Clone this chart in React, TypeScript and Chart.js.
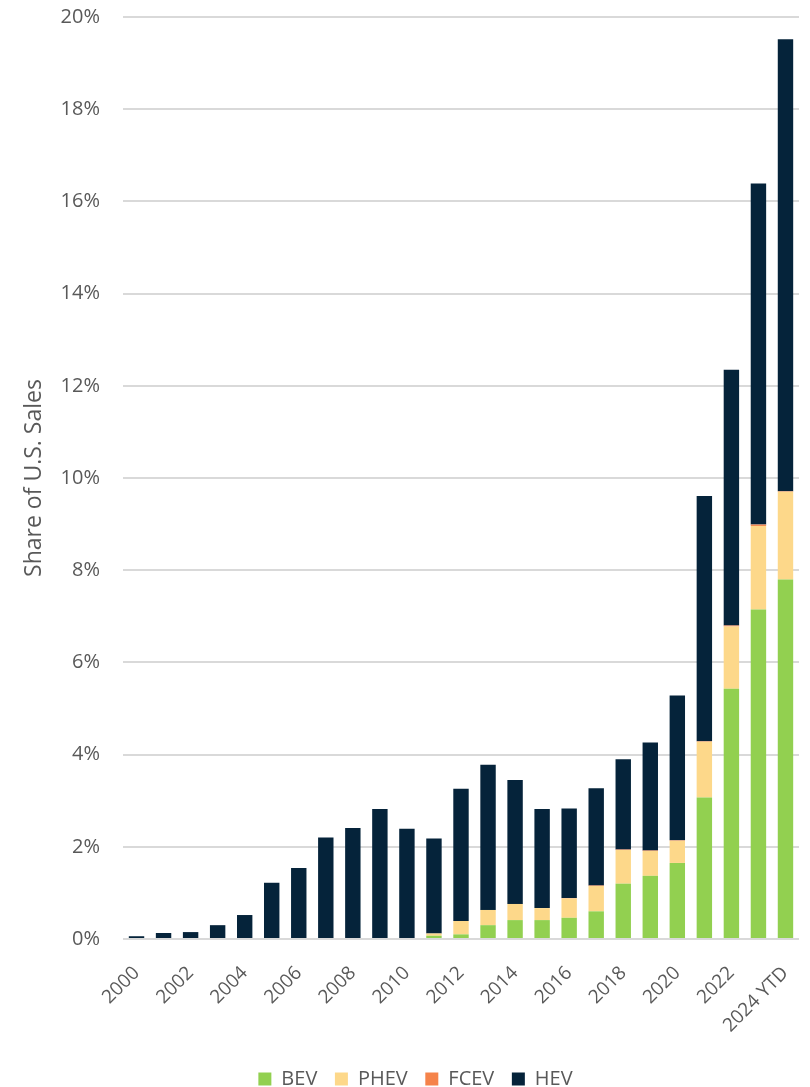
import React, { useEffect, useRef } from "react";
import { Chart, registerables } from "chart.js";

Chart.register(...registerables);

const categories = [
  "2000", "2001", "2002", "2003", "2004", "2005", "2006", "2007", "2008", "2009",
  "2010", "2011", "2012", "2013", "2014", "2015", "2016", "2017", "2018", "2019",
  "2020", "2021", "2022", "2023", "2024 YTD",
];

const bev = [
  0, 0, 0, 0, 0, 0, 0, 0, 0, 0,
  0, 0.07, 0.1, 0.3, 0.41, 0.41, 0.46, 0.6, 1.2, 1.37,
  1.65, 3.07, 5.43, 7.15, 7.8,
];
const phev = [
  0, 0, 0, 0, 0, 0, 0, 0, 0, 0,
  0, 0.05, 0.29, 0.33, 0.35, 0.26, 0.42, 0.55, 0.73, 0.54,
  0.48, 1.21, 1.35, 1.81, 1.9,
];
const fcev = [
  0, 0, 0, 0, 0, 0, 0, 0, 0, 0,
  0, 0, 0, 0, 0, 0, 0.01, 0.01, 0.01, 0.01,
  0.01, 0.01, 0.02, 0.03, 0.01,
];
const hev = [
  0.06, 0.13, 0.15, 0.3, 0.52, 1.22, 1.54, 2.2, 2.41, 2.82,
  2.39, 2.06, 2.87, 3.15, 2.69, 2.15, 1.94, 2.11, 1.96, 2.34,
  3.14, 5.32, 5.55, 7.4, 9.81,
];

const yTicks = [0, 2, 4, 6, 8, 10, 12, 14, 16, 18, 20];
const seriesNames = ["BEV", "PHEV", "FCEV", "HEV"];
const seriesColors = ["#92D050", "#FDD88A", "#F5834A", "#05233A"];

const FONT = "'Open Sans', sans-serif";
const GRAY = "#595959";

export default function App() {
  const ref = useRef<HTMLCanvasElement | null>(null);

  useEffect(() => {
    if (!ref.current) return;
    const values = [bev, phev, fcev, hev];
    const chart = new Chart(ref.current, {
      type: "bar",
      data: {
        labels: categories,
        datasets: seriesNames.map((name, i) => ({
          label: name,
          data: values[i],
          backgroundColor: seriesColors[i],
          borderWidth: 0,
          barPercentage: 0.57,
          categoryPercentage: 1,
        })),
      },
      options: {
        animation: false,
        responsive: true,
        maintainAspectRatio: false,
        layout: { padding: { left: 32, right: 11, top: 17, bottom: -12 } },
        plugins: {
          tooltip: { enabled: false },
          legend: {
            position: "bottom",
            labels: {
              boxWidth: 13,
              boxHeight: 13,
              padding: 2,
              color: GRAY,
              font: { family: FONT, size: 20 },
              generateLabels: (c: any) => {
                const items = Chart.defaults.plugins.legend.labels.generateLabels(c);
                return items.map((it: any, i: number) => ({
                  ...it,
                  text: i < items.length - 1 ? it.text + "   " : it.text,
                }));
              },
            },
          },
        },
        scales: {
          x: {
            stacked: true,
            grid: {
              display: true,
              drawOnChartArea: false,
              drawTicks: true,
              tickLength: 20,
              color: "rgba(0,0,0,0)",
              tickColor: "rgba(0,0,0,0)",
            },
            border: { display: false },
            ticks: {
              autoSkip: false,
              minRotation: 45,
              maxRotation: 45,
              padding: 3,
              color: GRAY,
              font: { family: FONT, size: 19 },
              callback: (_v: any, idx: number) => (idx % 2 === 0 ? categories[idx] : ""),
            },
            afterFit: (s: any) => {
              s.height = 128;
            },
          },
          y: {
            stacked: true,
            min: 0,
            max: 20,
            afterBuildTicks: (s: any) => {
              s.ticks = yTicks.map((v) => ({ value: v }));
            },
            grid: {
              color: "#D9D9D9",
              lineWidth: 2,
              drawTicks: true,
              tickLength: 20,
              tickColor: "rgba(0,0,0,0)",
            },
            border: { display: false },
            ticks: {
              padding: 3,
              color: GRAY,
              font: { family: FONT, size: 20 },
              callback: (v: any) => v + "%",
            },
            title: {
              display: true,
              text: "Share of U.S. Sales",
              color: GRAY,
              font: { family: FONT, size: 23 },
              padding: { top: -11, bottom: 0 },
            },
            afterFit: (s: any) => {
              s.width = 91;
            },
          },
        },
      },
    });
    return () => chart.destroy();
  }, []);

  return (
    <div style={{ width: 810, height: 1087, position: "relative" }}>
      <style>{`body{margin:0;}`}</style>
      <canvas ref={ref} />
    </div>
  );
}
